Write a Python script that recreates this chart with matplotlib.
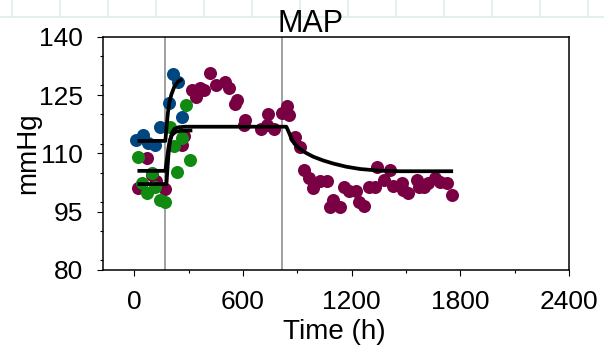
import matplotlib
matplotlib.use("Agg")
import matplotlib.pyplot as plt
from matplotlib.lines import Line2D
from matplotlib.ticker import MultipleLocator

plt.rcParams['font.family'] = ['Liberation Sans', 'DejaVu Sans']

# ---- data (time in h, MAP in mmHg) ----
blue_t = [11, 50, 77, 116, 141, 193, 215, 240, 263]
blue_v = [113.4, 114.8, 112.7, 112.1, 116.8, 123.0, 130.4, 128.3, 119.3]

green_t = [19, 44, 72, 97, 116, 143, 171, 199, 219, 237, 263, 287, 309]
green_v = [109.0, 102.5, 99.7, 104.9, 101.3, 98.1, 97.6, 116.8, 111.9, 105.1, 113.9, 122.4, 108.3]

maroon_t = [19, 70, 98, 119, 171, 265, 276, 317, 339, 364, 386, 419, 452, 502, 524,
            567, 557, 612, 603, 701, 737, 731, 769, 815, 842, 855, 888, 916, 934, 962,
            985, 1026, 1063, 1081, 1098, 1137, 1155, 1186, 1225, 1241, 1269, 1293, 1327,
            1339, 1379, 1412, 1429, 1477, 1486, 1513, 1560, 1572, 1600, 1624, 1661, 1688,
            1725, 1753]
maroon_v = [101.1, 108.7, 104.4, 103.0, 100.8, 112.1, 114.5, 126.4, 124.6, 126.7, 126.3,
            130.6, 127.6, 128.4, 126.7, 123.7, 122.6, 118.6, 117.3, 116.3, 120.1, 117.3,
            116.3, 120.3, 122.2, 119.9, 114.3, 111.6, 105.7, 103.6, 101.2, 102.8, 102.8,
            96.3, 98.0, 96.1, 101.4, 100.3, 100.3, 97.6, 96.5, 101.4, 101.4, 106.6, 103.1,
            105.7, 101.5, 102.3, 100.6, 99.7, 103.1, 101.3, 101.3, 102.3, 103.6, 102.7,
            102.3, 99.2]

# model curves
fit_blue_t = [17, 171, 177, 185, 193, 204, 221, 243, 265]
fit_blue_v = [113.2, 113.2, 116.5, 120.4, 123.0, 125.1, 127.2, 128.5, 129.1]

fit_green_t = [17, 171, 179, 188, 196, 207, 226, 254, 320]
fit_green_v = [105.5, 105.5, 108.3, 111.4, 113.4, 114.7, 115.5, 115.8, 115.9]

fit_maroon_t = [17, 177, 182, 188, 196, 207, 221, 243, 281, 839, 850, 866, 883, 910,
                949, 988, 1043, 1098, 1170, 1247, 1357, 1468, 1760]
fit_maroon_v = [102.1, 102.1, 105.7, 109.6, 112.9, 115.2, 116.3, 116.7, 116.85, 116.85,
                115.74, 113.94, 112.53, 111.24, 110.08, 109.13, 108.16, 107.38, 106.56,
                105.97, 105.53, 105.4, 105.4]

event_times = [171, 817]

x_ticks = [0, 600, 1200, 1800, 2400]
y_ticks = [80, 95, 110, 125, 140]

BLUE = '#004680'
GREEN = '#118a11'
MAROON = '#7a0044'

fig = plt.figure(figsize=(6.04, 3.46), dpi=100)
W, H = 604, 346
l, r, b, t = 102.7, 569, 270, 36.7
ax = fig.add_axes([l / W, 1 - b / H, (r - l) / W, (b - t) / H])

# spreadsheet-like grid strip at the top of the image
gc = '#dcefec'
fig.add_artist(Line2D([0, 1], [1 - 17 / H, 1 - 17 / H], transform=fig.transFigure, color=gc, lw=1.2))
for k in range(13):
    xk = (12 + 48.0 * k) / W
    fig.add_artist(Line2D([xk, xk], [1 - 17 / H, 1], transform=fig.transFigure, color=gc, lw=1.2))

for et in event_times:
    ax.axvline(et, color='#999999', lw=1.3, zorder=1)

ms = 88
ax.scatter(maroon_t, maroon_v, s=ms, color=MAROON, linewidths=0, zorder=2)
ax.scatter(green_t, green_v, s=ms, color=GREEN, linewidths=0, zorder=2)
ax.scatter(blue_t, blue_v, s=ms, color=BLUE, linewidths=0, zorder=2)

for ft, fv in [(fit_maroon_t, fit_maroon_v), (fit_green_t, fit_green_v), (fit_blue_t, fit_blue_v)]:
    ax.plot(ft, fv, color='black', lw=2.7, solid_capstyle='butt', solid_joinstyle='round', zorder=3)

ax.set_xlim(-175, 2400)
ax.set_ylim(80, 140)
ax.set_xticks(x_ticks)
ax.set_yticks(y_ticks)
ax.xaxis.set_minor_locator(MultipleLocator(300))
ax.yaxis.set_minor_locator(MultipleLocator(7.5))
ax.tick_params(which='major', direction='out', length=4.3, width=0.8, labelsize=19, pad=10)
ax.tick_params(which='minor', direction='out', length=2.2, width=0.8)
for sp in ax.spines.values():
    sp.set_linewidth(1.1)
    sp.set_color('black')

ax.set_xlabel('Time (h)', fontsize=20)
ax.xaxis.set_label_coords((334 - l) / (r - l), (b - 339) / (b - t))
ax.xaxis.label.set_va('baseline')
ax.set_ylabel('mmHg', fontsize=20)
ax.yaxis.set_label_coords((41.7 - l) / (r - l), 0.5)

fig.text(311 / W, 1 - 32 / H, 'MAP', fontsize=22, ha='center', va='baseline')

fig.savefig('out.png', dpi=100)
